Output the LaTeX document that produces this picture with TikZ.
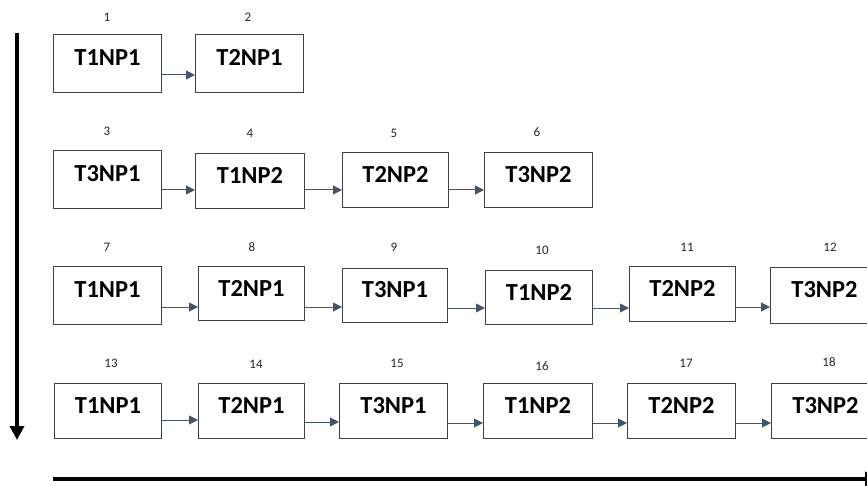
\documentclass[tikz,border=0pt]{standalone}
\usepackage{fontspec}
\setmainfont{Carlito}
\usetikzlibrary{arrows.meta}
\definecolor{arrowc}{HTML}{44546A}
\definecolor{boxc}{HTML}{404040}
\begin{document}
\begin{tikzpicture}[x=1pt,y=-1pt,
  box/.style={draw=boxc, line width=1pt, rectangle, anchor=north west, inner sep=0pt,
    font=\fontsize{24.5}{26}\selectfont\bfseries, text height=16pt, text depth=11pt},
  num/.style={font=\fontsize{13}{15}\selectfont, inner sep=0pt, text=black!85},
  conn/.style={draw=arrowc, line width=1pt, -{Triangle[length=9pt,width=9pt]}},
  axis/.style={line width=3.5pt, -{Triangle[length=14pt,width=14pt]}}]
\useasboundingbox (0,0) rectangle (867,486);
\clip (0,0) rectangle (867,486);
\newcommand\bx[6]{\node[box, minimum width=#4pt, minimum height=#5pt] (#1) at (#2,#3) {#6};}
\newcommand\nm[3]{\node[num] (n#1) at (#2,#3) {#1};}
\newcommand\cn[3]{\draw[conn] ([yshift=#3pt]#1.south east) -- ([yshift=#3pt]#1.south east -| #2.west);}
% row 1
\bx{b1}{53}{34}{108}{58}{T1NP1}
\bx{b2}{195}{34}{108}{58}{T2NP1}
% row 2
\bx{b3}{53}{150}{108}{58}{T3NP1}
\bx{b4}{195}{153}{109}{55}{T1NP2}
\bx{b5}{342}{152}{106}{55}{T2NP2}
\bx{b6}{484}{152}{108}{55}{T3NP2}
% row 3
\bx{b7}{53}{266}{108}{58}{T1NP1}
\bx{b8}{198}{266}{106}{54}{T2NP1}
\bx{b9}{342}{268}{105}{54}{T3NP1}
\bx{b10}{485}{270}{107}{54}{T1NP2}
\bx{b11}{629}{266}{106}{55}{T2NP2}
\bx{b12}{770}{267}{108}{56}{T3NP2}
% row 4
\bx{b13}{54}{383}{107}{55}{T1NP1}
\bx{b14}{198}{383}{106}{55}{T2NP1}
\bx{b15}{339}{383}{108}{55}{T3NP1}
\bx{b16}{483}{383}{109}{55}{T1NP2}
\bx{b17}{627}{383}{108}{55}{T2NP2}
\bx{b18}{771}{383}{108}{55}{T3NP2}
% numbers
\nm{1}{107}{17}
\nm{2}{248}{17}
\nm{3}{107}{131}
\nm{4}{250}{133}
\nm{5}{394}{133}
\nm{6}{537}{132}
\nm{7}{107}{247}
\nm{8}{252}{247}
\nm{9}{394}{247}
\nm{10}{542}{250}
\nm{11}{687}{247}
\nm{12}{830}{247}
\nm{13}{111}{363}
\nm{14}{256}{364}
\nm{15}{397}{363}
\nm{16}{542}{366}
\nm{17}{686}{363}
\nm{18}{829}{362}
% connectors
\cn{b1}{b2}{18}
\cn{b3}{b4}{19}
\cn{b4}{b5}{19}
\cn{b5}{b6}{18}
\cn{b7}{b8}{18}
\cn{b8}{b9}{14}
\cn{b9}{b10}{15}
\cn{b10}{b11}{17}
\cn{b11}{b12}{15}
\cn{b13}{b14}{19}
\cn{b14}{b15}{17}
\cn{b15}{b16}{16}
\cn{b16}{b17}{16}
\cn{b17}{b18}{16}
% axes
\coordinate (vtop) at (17,33);
\coordinate (vbot) at (17,440);
\coordinate (hleft) at (53,479);
\coordinate (hright) at (879,479);
\draw[axis] (vtop) -- (vbot);
\draw[axis] (hleft) -- (hright);
\end{tikzpicture}
\end{document}
